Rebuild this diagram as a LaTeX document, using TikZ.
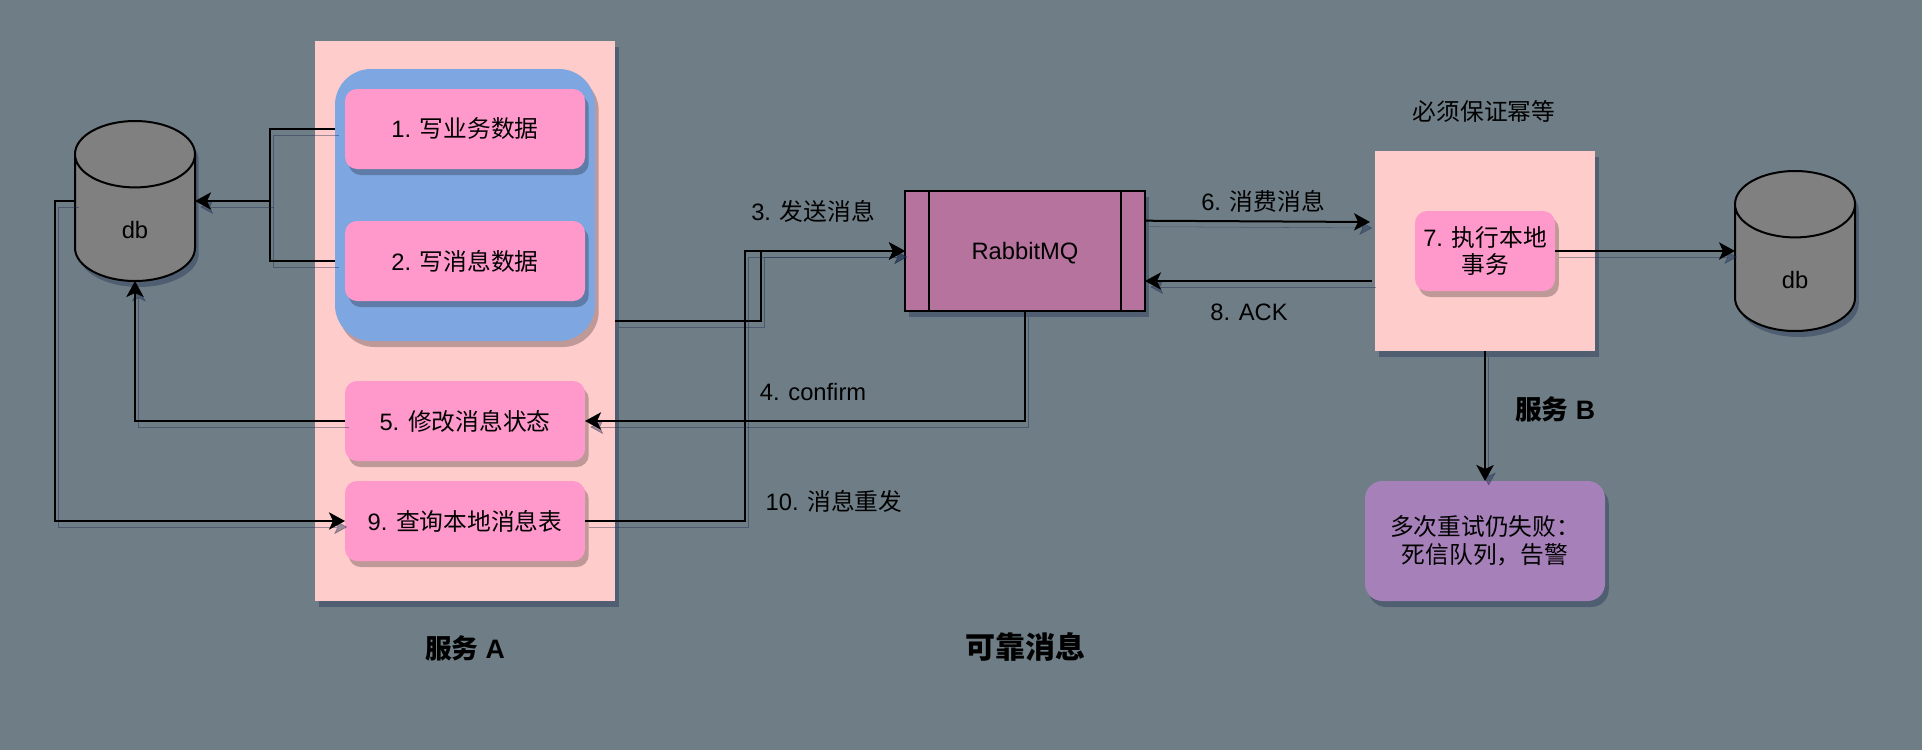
\documentclass[tikz,border=0pt]{standalone}
\usepackage{fontspec}
\setmainfont{Liberation Sans}
\newfontfamily\cjk{Noto Sans CJK SC}
\newcommand{\zh}[1]{{\cjk #1}}
\usepackage{xcolor}
\usetikzlibrary{arrows.meta, positioning, calc, shadows, shapes.geometric}
\definecolor{slatebg}{HTML}{6F7E86}
\definecolor{svcpink}{HTML}{FFCCCC}
\definecolor{grpblue}{HTML}{7EA6E0}
\definecolor{taskpink}{HTML}{FF99CC}
\definecolor{mqpurple}{HTML}{B5739D}
\definecolor{deadpurple}{HTML}{A680B8}
\definecolor{shade}{HTML}{1C2A50}

\begin{document}
\begin{tikzpicture}[
  x=0.75pt, y=-0.75pt,
  every node/.style={font=\fontsize{17.8pt}{21.4pt}\selectfont, inner sep=0pt, outer sep=0pt, align=center},
  soft/.style={drop shadow={shadow xshift=2.8pt, shadow yshift=-4.5pt, opacity=.38, fill=shade}},
  softin/.style={drop shadow={shadow xshift=2.8pt, shadow yshift=-4.5pt, opacity=.25, fill=black}},
  svc/.style={fill=svcpink, soft},
  task/.style={fill=taskpink, rounded corners=9pt, minimum width=180pt, minimum height=60pt, softin},
  store/.style={draw, line width=1.5pt, fill=gray, shape=cylinder, shape border rotate=90, aspect=1,
    inner sep=15pt, minimum width=90pt, minimum height=120pt, anchor=shape center, soft},
  bold/.style={font=\fontsize{20pt}{24pt}\selectfont\bfseries},
  link/.style={line width=1.5pt, -{Stealth[length=12pt, width=13pt, inset=3pt]},
    preaction={draw=shade, opacity=.42, transform canvas={xshift=2.8pt, yshift=-4.5pt}}},
  plain/.style={line width=1.5pt,
    preaction={draw=shade, opacity=.42, transform canvas={xshift=2.8pt, yshift=-4.5pt}}}
]
  \fill[slatebg] (0,0) rectangle (1922,750);

  % service A
  \node[svc, minimum width=225pt, minimum height=420pt] (svca) at (465,321) {};
  \node[fill=grpblue, rounded corners=27pt, minimum width=195pt, minimum height=204pt, softin] (grp) at (465,205) {};
  \node[task] (wbiz) at (465,129) {1. \zh{写业务数据}};
  \node[task] (wmsg) at (465,261) {2. \zh{写消息数据}};
  \node[task] (upd) at (465,421) {5. \zh{修改消息状态}};
  \node[task] (qry) at (465,521) {9. \zh{查询本地消息表}};

  % stores
  \node[store] (dba) at (135,201) {db};
  \node[store] (dbb) at (1795,251) {db};

  % broker
  \node[draw, line width=1.5pt, fill=mqpurple, minimum width=180pt, minimum height=90pt, text depth=0pt, soft] (mq) at (1025,251) {RabbitMQ};
  \draw[line width=1.2pt] ($(mq.north west)+(18pt,0)$) -- ($(mq.south west)+(18pt,0)$);
  \draw[line width=1.2pt] ($(mq.north east)+(-18pt,0)$) -- ($(mq.south east)+(-18pt,0)$);

  % service B
  \node[svc, minimum width=165pt, minimum height=150pt] (svcb) at (1485,251) {};
  \node[task, minimum width=105pt] (exec) at (svcb) {7. \zh{执行本地}\\[-0.5pt]\zh{事务}};
  \node[fill=deadpurple, rounded corners=13pt, minimum width=180pt, minimum height=90pt, soft] (dead) at (1485,541) {\zh{多次重试仍失败：}\\\zh{死信队列，告警}};

  % turning points
  \coordinate (mrg) at (270,201);
  \coordinate (dbaout) at (55,201);
  \coordinate (qryturn) at (745,521);
  \coordinate (aturn) at (761,321);
  \coordinate (ackfrom) at (1372,281);
  \coordinate (ackto) at (1145,281);
  \coordinate (conso) at (1145,220.7);
  \coordinate (consi) at (1370,222);

  \foreach \a in {wbiz, wmsg}
    \draw[plain] (grp.west |- \a) -| (mrg);
  \draw[link] (mrg) -- (dba.east |- mrg);
  \draw[link] (dba.west |- mrg) -- (dbaout) |- (qry.west);
  \draw[link] (upd.west) -| (dba.south);
  \draw[link] (svca.east) -| (aturn) |- (mq.west);
  \draw[link] (qry.east) -| (qryturn) |- (mq.west);
  \draw[link] (mq.south) |- (upd.east);
  \draw[link] (conso) -- (consi);
  \draw[link] (ackfrom) -- (ackto);
  \draw[link] (exec.east) -- (dbb.west |- exec);
  \draw[link] (svcb.south) -- (dead.north);

  % labels
  \node (l3) at (813,211) {3. \zh{发送消息}};
  \node (l4) at (813,392) {4. confirm};
  \node (l6) at (1263,201) {6. \zh{消费消息}};
  \node (l8) at (1249,312) {8. ACK};
  \node (l10) at (834,501) {10. \zh{消息重发}};
  \node (lidem) at (1484,111) {\zh{必须保证幂等}};
  \node[bold] (lsa) at (465,648) {\zh{服务} A};
  \node[bold] (lsb) at (1555,409) {\zh{服务} B};
  \node[font=\fontsize{22.5pt}{26pt}\selectfont\bfseries] (ltitle) at (1025,647) {\zh{可靠消息}};
\end{tikzpicture}
\end{document}
